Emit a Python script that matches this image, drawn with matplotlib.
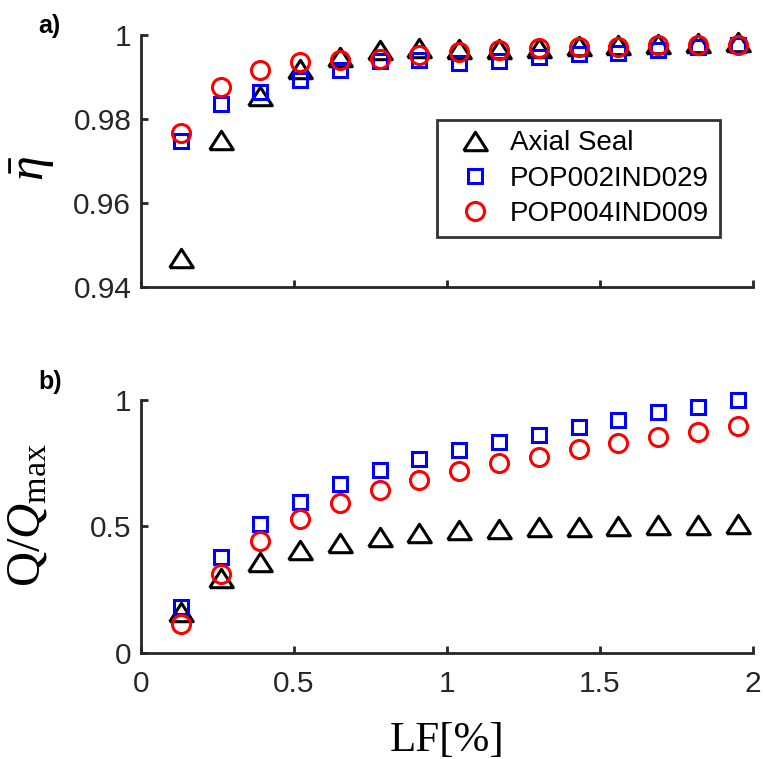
import matplotlib
matplotlib.use("Agg")
import matplotlib.pyplot as plt

plt.rcParams['font.family'] = ['Liberation Sans', 'DejaVu Sans']
plt.rcParams['mathtext.fontset'] = 'custom'
plt.rcParams['mathtext.rm'] = 'Liberation Serif'
plt.rcParams['mathtext.it'] = 'Liberation Serif:italic'

# leakage fraction [%]
lf = [0.13, 0.26, 0.39, 0.52, 0.65, 0.78, 0.91, 1.04, 1.17, 1.30, 1.43, 1.56, 1.69, 1.82, 1.95]

# mean efficiency
eta_axial = [0.947, 0.975, 0.9855, 0.992, 0.9948, 0.9964, 0.9969, 0.9967, 0.9966,
             0.997, 0.9974, 0.9975, 0.9978, 0.9982, 0.9983]
eta_pop002 = [0.9748, 0.9836, 0.9864, 0.9893, 0.9917, 0.9938, 0.9940, 0.9933, 0.9938,
              0.9948, 0.9955, 0.9958, 0.9964, 0.9971, 0.9976]
eta_pop004 = [0.9767, 0.9876, 0.9917, 0.9936, 0.994, 0.9943, 0.9952, 0.9960, 0.9964,
              0.9969, 0.9971, 0.9971, 0.9976, 0.9976, 0.9976]

# normalised flow rate
q_axial = [0.16, 0.296, 0.36, 0.407, 0.435, 0.458, 0.474, 0.486, 0.49,
           0.496, 0.498, 0.502, 0.504, 0.506, 0.508]
q_pop002 = [0.182, 0.38, 0.51, 0.598, 0.667, 0.723, 0.767, 0.802, 0.835,
            0.862, 0.894, 0.92, 0.952, 0.972, 1.0]
q_pop004 = [0.115, 0.312, 0.443, 0.53, 0.593, 0.644, 0.684, 0.719, 0.75,
            0.775, 0.806, 0.83, 0.854, 0.874, 0.897]

labels = ['Axial Seal', 'POP002IND029', 'POP004IND009']

# MATLAB-style wide triangle
tri = [(-1, -0.78), (1, -0.78), (0, 0.78), (-1, -0.78)]
styles = [dict(marker=tri, ms=17, mec='black'),
          dict(marker='s', ms=10, mec='#0000ff'),
          dict(marker='o', ms=13, mec='#ff0000')]

axcol = '#262626'

fig = plt.figure(figsize=(7.63, 7.59), dpi=100)
ax1 = fig.add_axes([0.1848, 0.6219, 0.802, 0.332])
ax2 = fig.add_axes([0.1848, 0.1397, 0.802, 0.3333])

for ys, st, lab in zip([eta_axial, eta_pop002, eta_pop004], styles, labels):
    ax1.plot(lf, ys, ls='none', mfc='none', mew=2.2, label=lab, clip_on=False, **st)
for ys, st in zip([q_axial, q_pop002, q_pop004], styles):
    ax2.plot(lf, ys, ls='none', mfc='none', mew=2.2, clip_on=False, **st)

for ax in (ax1, ax2):
    ax.set_xlim(0, 2)
    ax.set_xticks([0, 0.5, 1, 1.5, 2])
    ax.spines['top'].set_visible(False)
    ax.spines['right'].set_visible(False)
    for s in ('left', 'bottom'):
        ax.spines[s].set_linewidth(2)
        ax.spines[s].set_color(axcol)
    ax.tick_params(direction='in', length=5, width=2, color=axcol,
                   labelcolor=axcol, labelsize=21.5)
    ax.tick_params(axis='y', pad=7)
    ax.tick_params(axis='x', pad=12)

ax1.set_ylim(0.94, 1.0)
ax1.set_yticks([0.94, 0.96, 0.98, 1.0])
ax1.set_yticklabels(['0.94', '0.96', '0.98', '1'])
ax1.set_xticklabels([])
ax1.set_ylabel(r'$\bar{\eta}$', fontsize=36)
ax1.yaxis.set_label_coords(-0.138, 0.47)

ax2.set_ylim(0, 1)
ax2.set_yticks([0, 0.5, 1])
ax2.set_yticklabels(['0', '0.5', '1'])
ax2.set_xticklabels(['0', '0.5', '1', '1.5', '2'])
ax2.set_ylabel(r'Q/$Q_{\rm max}$', fontsize=35, family='Liberation Serif')
ax2.yaxis.set_label_coords(-0.15, 0.545)
ax2.set_xlabel('LF[%]', fontsize=31, family='Liberation Serif', labelpad=17)

leg = ax1.legend(loc='upper left', bbox_to_anchor=(0.5727, 0.842),
                 bbox_transform=fig.transFigure, fontsize=20, frameon=True,
                 fancybox=False, edgecolor='black', handlelength=2.0,
                 handletextpad=0.25, borderpad=0.38, labelspacing=0.33,
                 borderaxespad=0)
leg.get_frame().set_linewidth(2)

fig.text(0.05, 0.966, 'a)', fontsize=18, fontweight='bold', ha='left', va='center')
fig.text(0.05, 0.497, 'b)', fontsize=18, fontweight='bold', ha='left', va='center')

fig.savefig('out.png', dpi=100)
